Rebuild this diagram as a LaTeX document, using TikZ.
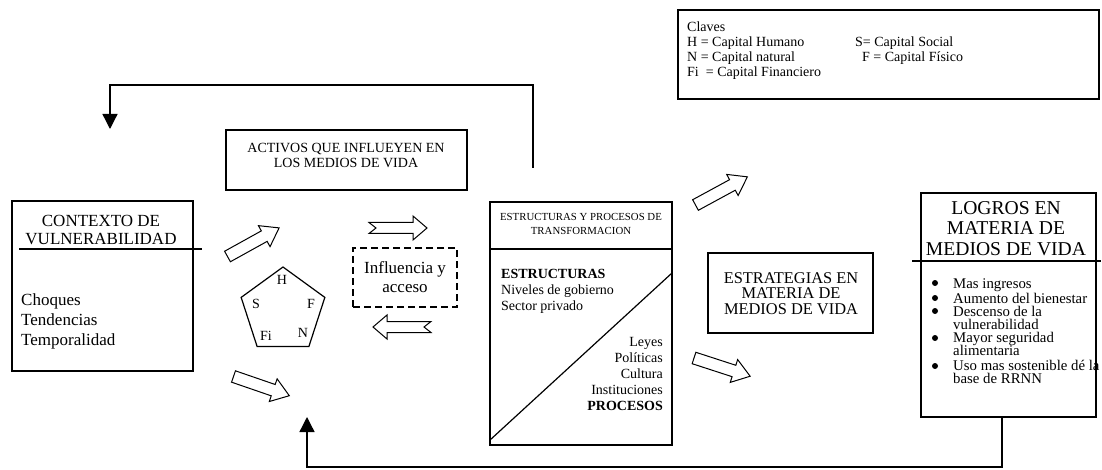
\documentclass[tikz,border=0pt]{standalone}
\usepackage{fontspec}
\setmainfont{Liberation Serif}
\usetikzlibrary{shapes.geometric, arrows.meta, positioning, calc}

\newcommand{\fsz}[1]{\fontsize{#1}{#1}\selectfont}

\tikzset{
  box/.style={draw, line width=1.3pt, inner sep=0pt},
  lbl/.style={inner sep=0pt},
  fb/.style={line width=1.3pt, -{Triangle[width=15pt,length=15pt]}},
  pics/fatarrow/.style={code={
    \draw[line width=1pt, line join=miter, fill=white]
      (0,-6) -- (42,-6) -- (42,-12) -- (59,0) -- (42,12) -- (42,6) -- (0,6) -- cycle;}},
  pics/notcharrow/.style={code={
    \draw[line width=1pt, line join=miter, fill=white]
      (0,-5.5) -- (44,-5.5) -- (44,-12) -- (58,0) -- (44,12) -- (44,5.5) -- (0,5.5) -- (7,0) -- cycle;}},
}

\begin{document}
\begin{tikzpicture}[x=1pt, y=-1pt, font={\fsz{14}}]
  \useasboundingbox (0,0) rectangle (1102,470);

  % claves
  \node[box, minimum width=421, minimum height=89] (claves) at (888.5,54.5) {};
  \foreach \t [count=\i] in {Claves, H = Capital Humano, N = Capital natural, {Fi\ \ = Capital Financiero}}
    \node[lbl, anchor=base west] (cl\i) at (687, 17+15*\i) {\t};
  \node[lbl, anchor=base west] (cls) at (855,47) {S= Capital Social};
  \node[lbl, anchor=base west] (clf) at (862,62) {F = Capital Físico};

  % contexto de vulnerabilidad
  \node[box, minimum width=181, minimum height=170] (ctx) at (102.5,286) {};
  \draw[line width=1.3pt] (19,249) -- (202,249);
  \node[lbl, font={\fsz{17}}, anchor=base] (ctx1) at (101,227) {CONTEXTO DE};
  \node[lbl, font={\fsz{17}}, anchor=base] (ctx2) at (101,245) {VULNERABILIDAD};
  \foreach \t [count=\i] in {Choques, Tendencias, Temporalidad}
    \node[lbl, font={\fsz{17}}, anchor=base west] (ch\i) at (21, 285+20*\i) {\t};

  % activos
  \node[box, minimum width=241, minimum height=60] (act) at (346.5,160) {};
  \node[lbl, anchor=base] (act1) at (346,153) {ACTIVOS QUE INFLUEYEN EN};
  \node[lbl, anchor=base] (act2) at (346,168) {LOS MEDIOS DE VIDA};

  % pentagono
  \node[draw, line width=1.2pt, regular polygon, regular polygon sides=5,
    minimum size=88, inner sep=0pt] (pent) at (283,311) {};
  \foreach \t/\p in {H/{282,280}, S/{256,304}, F/{311,304}, Fi/{266,336}, N/{303,333}}
    \node[lbl] (p\t) at (\p) {\t};

  % influencia y acceso
  \node[box, dash pattern=on 7pt off 4pt, minimum width=104, minimum height=59] (inf) at (405,277.5) {};
  \node[lbl, font={\fsz{17}}, anchor=base] (inf1) at (405,273) {Influencia y};
  \node[lbl, font={\fsz{17}}, anchor=base] (inf2) at (405,292) {acceso};

  % estructuras y procesos
  \node[box, minimum width=182, minimum height=243] (estr) at (581,323.5) {};
  \draw[line width=1.3pt] (490,249) -- (672,249);
  \draw[line width=1.2pt] (490,440) -- (672,273);
  \node[lbl, font={\fsz{10.8}}, anchor=base] (eh1) at (581,221) {ESTRUCTURAS Y PROCESOS DE};
  \node[lbl, font={\fsz{10.8}}, anchor=base] (eh2) at (581,235) {TRANSFORMACION};
  \foreach \t [count=\i] in {\textbf{ESTRUCTURAS}, Niveles de gobierno, Sector privado}
    \node[lbl, anchor=base west] (el\i) at (501, 262+16*\i) {\t};
  \foreach \t [count=\i] in {Leyes, Políticas, Cultura, Instituciones, \textbf{PROCESOS}}
    \node[lbl, anchor=base east] (er\i) at (663, 330+16*\i) {\t};

  % estrategias
  \node[box, minimum width=165, minimum height=80] (strat) at (790.5,293) {};
  \foreach \t [count=\i] in {ESTRATEGIAS EN, MATERIA DE, MEDIOS DE VIDA}
    \node[lbl, font={\fsz{16.4}}, anchor=base] (st\i) at (791, 267.5+15.5*\i) {\t};

  % logros
  \node[box, minimum width=175, minimum height=224] (logros) at (1008.5,305) {};
  \draw[line width=1.3pt] (912,261) -- (1101,261);
  \foreach \t [count=\i] in {LOGROS EN, MATERIA DE, MEDIOS DE VIDA}
    \node[lbl, font={\fsz{19.6}}, anchor=base] (lt\i) at (1006, 195+20*\i) {\t};
  \foreach \t/\yy [count=\i] in {Mas ingresos/288, Aumento del bienestar/303, Descenso de la/316,
      vulnerabilidad/329, Mayor seguridad/342, alimentaria/355, Uso mas sostenible dé la/370, base de RRNN/383}
    \node[lbl, font={\fsz{14.8}}, anchor=base west] (lg\i) at (953,\yy) {\t};
  \foreach \yy in {283,298,311,338,366}
    \fill (935,\yy) circle (3pt);

  % flechas huecas
  \pic[rotate=29] at (227.5,256.5) {fatarrow};
  \pic[rotate=-19] at (233.5,376.5) {fatarrow};
  \pic[rotate=28.5] at (695.5,205) {fatarrow};
  \pic[rotate=-18] at (694,358) {fatarrow};
  \pic at (369,228) {notcharrow};
  \pic[rotate=180] at (431,327) {notcharrow};

  % retroalimentacion
  \coordinate (fbtop) at (533,168);
  \coordinate (fbleft) at (110,129);
  \draw[fb] (fbtop) -- (533,85) -| (fbleft);
  \coordinate (fbup) at (307,417);
  \draw[fb] ([xshift=-6.5]logros.south) -- (1002,467) -| (fbup);
\end{tikzpicture}
\end{document}
